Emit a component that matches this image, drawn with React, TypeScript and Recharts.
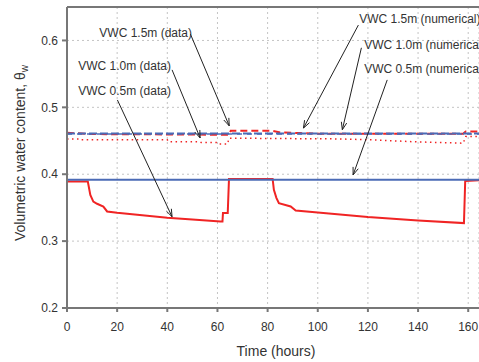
import React from 'react';
import {
    LineChart, Line, XAxis, YAxis, CartesianGrid, ReferenceLine, ReferenceDot,
} from 'recharts';

// measured sensor data (hours / volumetric water content)
const data05Hours = [0, 8.3, 9.3, 10.5, 12, 14.5, 16, 20, 30, 40, 50, 61.2, 62, 62.2, 64.1, 64.6, 82, 82.5, 83.5, 84.5, 89.2, 91.2, 100, 120, 140, 158.3, 158.8, 164.3];
const data05Values = [0.389, 0.389, 0.369, 0.359, 0.3558, 0.3517, 0.3443, 0.3423, 0.3386, 0.3349, 0.3322, 0.3293, 0.3293, 0.3419, 0.3419, 0.393, 0.393, 0.3767, 0.3647, 0.3568, 0.3517, 0.3458, 0.3428, 0.3359, 0.3308, 0.3269, 0.39, 0.391];

const data10Hours = [0, 5, 5.5, 40, 40.5, 53, 53.5, 60, 60.5, 64, 64.6, 98, 108, 122, 139, 158, 159, 164.3];
const data10Values = [0.4528, 0.4528, 0.4514, 0.4514, 0.4484, 0.4484, 0.4473, 0.4473, 0.445, 0.445, 0.4539, 0.453, 0.4528, 0.4514, 0.4484, 0.4464, 0.4563, 0.4563];

const data15Hours = [0, 10, 40, 64.6, 65.3, 81.6, 85, 93, 100, 158, 159, 164.3];
const data15Values = [0.462, 0.46, 0.4595, 0.459, 0.465, 0.465, 0.4625, 0.4615, 0.4605, 0.4605, 0.4638, 0.4638];

// numerical model results
const num05Hours = [0, 164.3];
const num05Values = [0.3916, 0.3916];
const num10Hours = [0, 164.3];
const num10Values = [0.46, 0.46];
const num15Hours = [0, 164.3];
const num15Values = [0.4608, 0.4608];

const xTicks = [0, 20, 40, 60, 80, 100, 120, 140, 160];
const yTicks = [0.2, 0.3, 0.4, 0.5, 0.6];

// annotation labels: text anchor point and arrow from/to (data coords)
const labelTexts = ['VWC 1.5m (data)', 'VWC 1.0m (data)', 'VWC 0.5m (data)', 'VWC 1.5m (numerical)', 'VWC 1.0m (numerical)', 'VWC 0.5m (numerical)'];
const labelAt = [[12.9, 0.611], [4.5, 0.562], [4.5, 0.5245], [116.5, 0.632], [118.5, 0.593], [118.5, 0.557]];
const arrowFrom = [[49.2, 0.6097], [41.9, 0.556], [20.1, 0.511], [116.2, 0.623], [117.4, 0.589], [127.7, 0.541]];
const arrowTo = [[64.7, 0.4723], [53.1, 0.4542], [41.9, 0.3364], [94.3, 0.469], [109.8, 0.4665], [114.1, 0.399]];

const zip = (hours: number[], values: number[]) => hours.map((h, i) => ({ h, v: values[i] }));

const RED = '#f02424';
const BLUE = '#4b6bb6';
const AXIS = '#777777';
const TEXT = '#333333';
const FONT = 'Arial, "Liberation Sans", sans-serif';

const Arrow = (props: any) => {
    const { x1, y1, x2, y2 } = props;
    const ang = Math.atan2(y2 - y1, x2 - x1);
    const len = 8;
    const spread = 0.35;
    const ax = x2 - len * Math.cos(ang - spread);
    const ay = y2 - len * Math.sin(ang - spread);
    const bx = x2 - len * Math.cos(ang + spread);
    const by = y2 - len * Math.sin(ang + spread);
    return (
        <g>
            <line x1={x1} y1={y1} x2={x2} y2={y2} stroke="#222" strokeWidth={1} />
            <polyline points={`${ax},${ay} ${x2},${y2} ${bx},${by}`} fill="none" stroke="#222" strokeWidth={1} />
        </g>
    );
};

export default function App() {
    return (
        <div style={{ position: 'absolute', left: 0, top: 0 }}>
            <LineChart width={479} height={362} margin={{ top: 7, right: 0, bottom: 0, left: 0 }}>
                <CartesianGrid stroke="#c4c4c4" strokeDasharray="2 3" />
                <XAxis
                    dataKey="h"
                    type="number"
                    domain={[0, 164.3]}
                    ticks={xTicks}
                    allowDataOverflow
                    height={54}
                    stroke={AXIS}
                    strokeWidth={2}
                    tickSize={4}
                    tickMargin={10}
                    tick={{ fill: TEXT, fontSize: 12, fontFamily: FONT }}
                    label={{
                        content: () => (
                            <text x={276} y={356} textAnchor="middle" fill={TEXT} fontSize={14} fontFamily={FONT}>
                                Time (hours)
                            </text>
                        ),
                    }}
                />
                <YAxis
                    type="number"
                    domain={[0.2, 0.65]}
                    ticks={yTicks}
                    allowDataOverflow
                    width={67}
                    stroke={AXIS}
                    strokeWidth={2}
                    tickSize={5}
                    tickMargin={4}
                    tickFormatter={(v: number) => v.toFixed(1)}
                    tick={{ fill: TEXT, fontSize: 12, fontFamily: FONT }}
                    label={{
                        content: () => (
                            <text x={25} y={153} transform="rotate(-90, 25, 153)" textAnchor="middle" fill={TEXT} fontSize={14} fontFamily={FONT}>
                                Volumetric water content, θ
                                <tspan fontSize={10} dy={3}>w</tspan>
                            </text>
                        ),
                    }}
                />
                <ReferenceLine y={0.65} stroke={AXIS} strokeWidth={2} />

                <Line data={zip(data10Hours, data10Values)} dataKey="v" type="linear" stroke={RED} strokeWidth={1.5} strokeDasharray="1.5 3.5" dot={false} isAnimationActive={false} />
                <Line data={zip(data15Hours, data15Values)} dataKey="v" type="linear" stroke={RED} strokeWidth={2} strokeDasharray="7 4" dot={false} isAnimationActive={false} />
                <Line data={zip(num15Hours, num15Values)} dataKey="v" type="linear" stroke={BLUE} strokeWidth={2} strokeDasharray="8 3" dot={false} isAnimationActive={false} />
                <Line data={zip(num10Hours, num10Values)} dataKey="v" type="linear" stroke={BLUE} strokeWidth={1.5} strokeDasharray="5 5" dot={false} isAnimationActive={false} />
                <Line data={zip(data05Hours, data05Values)} dataKey="v" type="linear" stroke={RED} strokeWidth={2} dot={false} isAnimationActive={false} />
                <Line data={zip(num05Hours, num05Values)} dataKey="v" type="linear" stroke={BLUE} strokeWidth={2} dot={false} isAnimationActive={false} />

                {labelTexts.map((t, i) => (
                    <ReferenceLine
                        key={'a' + i}
                        segment={[{ x: arrowFrom[i][0], y: arrowFrom[i][1] }, { x: arrowTo[i][0], y: arrowTo[i][1] }]}
                        shape={Arrow}
                        ifOverflow="visible"
                    />
                ))}
                {labelTexts.map((t, i) => (
                    <ReferenceDot
                        key={'t' + i}
                        x={labelAt[i][0]}
                        y={labelAt[i][1]}
                        ifOverflow="visible"
                        shape={(p: any) => (
                            <text x={p.cx} y={p.cy} dy="0.35em" fill={TEXT} fontSize={12} fontFamily={FONT}>
                                {t}
                            </text>
                        )}
                    />
                ))}
            </LineChart>
        </div>
    );
}
